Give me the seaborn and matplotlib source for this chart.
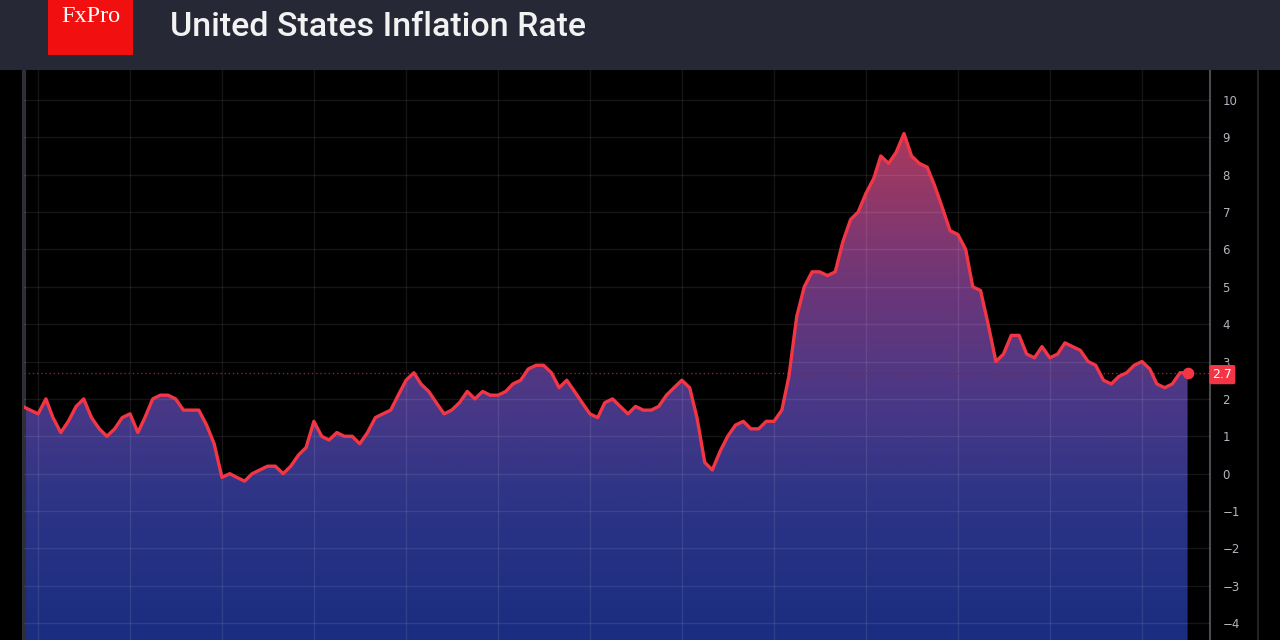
import numpy as np
import pandas as pd
import matplotlib
matplotlib.use("Agg")
import matplotlib.pyplot as plt
import matplotlib.dates as mdates
from matplotlib.colors import LinearSegmentedColormap
from matplotlib.patches import Rectangle
from matplotlib.lines import Line2D
import seaborn as sns

# monthly US CPI inflation, % y/y, Nov 2012 - Jul 2025
months = pd.date_range("2012-11-01", "2025-07-01", freq="MS")
rate = [
    1.8, 1.7,
    1.6, 2.0, 1.5, 1.1, 1.4, 1.8, 2.0, 1.5, 1.2, 1.0, 1.2, 1.5,
    1.6, 1.1, 1.5, 2.0, 2.1, 2.1, 2.0, 1.7, 1.7, 1.7, 1.3, 0.8,
    -0.1, 0.0, -0.1, -0.2, 0.0, 0.1, 0.2, 0.2, 0.0, 0.2, 0.5, 0.7,
    1.4, 1.0, 0.9, 1.1, 1.0, 1.0, 0.8, 1.1, 1.5, 1.6, 1.7, 2.1,
    2.5, 2.7, 2.4, 2.2, 1.9, 1.6, 1.7, 1.9, 2.2, 2.0, 2.2, 2.1,
    2.1, 2.2, 2.4, 2.5, 2.8, 2.9, 2.9, 2.7, 2.3, 2.5, 2.2, 1.9,
    1.6, 1.5, 1.9, 2.0, 1.8, 1.6, 1.8, 1.7, 1.7, 1.8, 2.1, 2.3,
    2.5, 2.3, 1.5, 0.3, 0.1, 0.6, 1.0, 1.3, 1.4, 1.2, 1.2, 1.4,
    1.4, 1.7, 2.6, 4.2, 5.0, 5.4, 5.4, 5.3, 5.4, 6.2, 6.8, 7.0,
    7.5, 7.9, 8.5, 8.3, 8.6, 9.1, 8.5, 8.3, 8.2, 7.7, 7.1, 6.5,
    6.4, 6.0, 5.0, 4.9, 4.0, 3.0, 3.2, 3.7, 3.7, 3.2, 3.1, 3.4,
    3.1, 3.2, 3.5, 3.4, 3.3, 3.0, 2.9, 2.5, 2.4, 2.6, 2.7, 2.9,
    3.0, 2.8, 2.4, 2.3, 2.4, 2.7, 2.7,
]
yticks = list(range(-4, 11))
title = "United States Inflation Rate"

df = pd.DataFrame({"date": months, "rate": rate})
last = df["rate"].iloc[-1]

sns.set_style("dark")
line_red = "#f23645"

fig = plt.figure(figsize=(12.8, 6.4), dpi=100)
fig.patch.set_facecolor("black")
ax = fig.add_axes([24 / 1280, 0, (1210 - 24) / 1280, 570 / 640])
ax.set_facecolor("black")

x0 = mdates.date2num(pd.Timestamp("2012-11-06"))
x1 = mdates.date2num(pd.Timestamp("2025-09-28"))
y0, y1 = -4.45, 10.8

# gradient area under the line
xs = mdates.date2num(df["date"])
poly = ax.fill_between(xs, df["rate"], y0 - 1, color="none", lw=0)
cmap = LinearSegmentedColormap.from_list("infl", [
    (0.0, "#1a2d80"), (0.23, "#2b3486"), (0.42, "#4a3886"),
    (0.62, "#6c3679"), (0.88, "#a8395e"), (1.0, "#c83c55")])
grad = np.linspace(0, 1, 256).reshape(-1, 1)
im = ax.imshow(grad, cmap=cmap, origin="lower", aspect="auto",
               extent=[x0, x1, y0, y1], zorder=1)
im.set_clip_path(poly.get_paths()[0], transform=ax.transData)

sns.lineplot(data=df, x="date", y="rate", color=line_red, lw=2.4, ax=ax, zorder=4)
ax.scatter([xs[-1]], [last], s=70, color=line_red, zorder=5, lw=0)
ax.axhline(last, color="#8a2233", lw=1, ls=(0, (1, 2)), zorder=3)

ax.set_xlim(x0, x1)
ax.set_ylim(y0, y1)
ax.xaxis.set_major_locator(mdates.YearLocator())
ax.set_yticks(yticks)
ax.grid(True, color="white", alpha=0.085, lw=1)
ax.set_axisbelow(False)
ax.set_xlabel("")
ax.set_ylabel("")
ax.tick_params(axis="x", length=0, labelbottom=False)
ax.yaxis.tick_right()
ax.tick_params(axis="y", length=0, pad=9, labelsize=8.5, labelcolor="#b2b5be")

for side in ["top", "bottom"]:
    ax.spines[side].set_visible(False)
ax.spines["left"].set_color("#2e2f36")
ax.spines["left"].set_linewidth(3)
ax.spines["right"].set_color("#4a4b52")
ax.spines["right"].set_linewidth(1.5)

# last value tag on the price scale
ax.text(1.002, last - 0.05, f"{last:.1f}", transform=ax.get_yaxis_transform(),
        ha="left", va="center", color="white", fontsize=9,
        bbox=dict(boxstyle="round,pad=0.25,rounding_size=0.15",
                  fc=line_red, ec="none"), zorder=6)

fig.add_artist(Line2D([1258 / 1280] * 2, [0, 570 / 640], color="#2a2b31", lw=1.2))

# header band with logo and title
fig.add_artist(Rectangle((0, 570 / 640), 1, 70 / 640, transform=fig.transFigure,
                         color="#262935", lw=0))
fig.add_artist(Rectangle((48 / 1280, 585 / 640), 85 / 1280, 55 / 640,
                         transform=fig.transFigure, color="#f20f10", lw=0))
fig.text(91 / 1280, 1 - 17 / 640, "FxPro", ha="center", va="center",
         color="white", fontsize=17.5, family="Liberation Serif")
fig.text(170 / 1280, 1 - 27 / 640, title, ha="left", va="center",
         color="#f2f2f2", fontsize=24.5, family="Roboto", weight="medium")

fig.savefig("out.png", dpi=100, facecolor=fig.get_facecolor())
